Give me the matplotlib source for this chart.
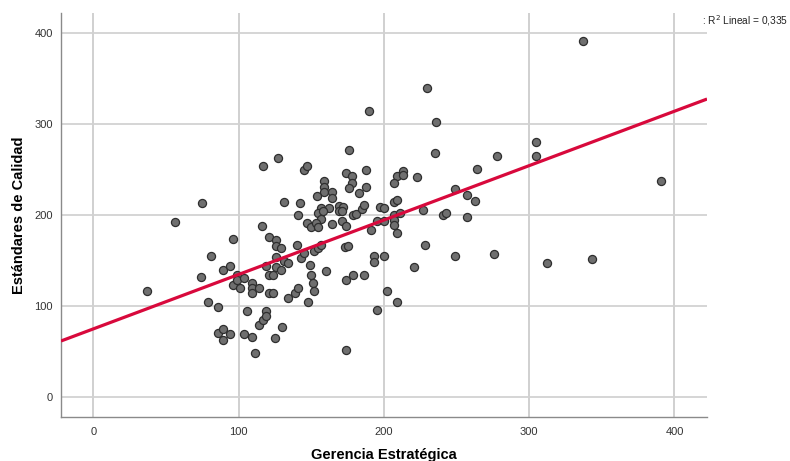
import numpy as np
import matplotlib.pyplot as plt

# --- data (Gerencia Estratégica vs Estándares de Calidad) ---
gerencia = [
    37, 56, 75, 74, 79, 81, 86, 86, 89, 89, 94, 89, 94, 96, 96, 99, 99, 101, 104, 104,
    106, 109, 109, 109, 109, 111, 114, 114, 117, 119, 119, 121, 121, 121, 124, 124, 119, 126, 126, 129,
    126, 126, 129, 125, 130, 131, 134, 134, 140, 139, 141, 143, 145, 148, 149, 150, 151, 152, 152, 155,
    157, 160, 173, 175, 174, 179, 186, 174, 191, 193, 193, 200, 202, 195, 209, 116, 117, 127, 145, 147,
    176, 174, 178, 188, 159, 159, 159, 164, 164, 178, 176, 188, 183, 131, 142, 154, 141, 157, 162, 155,
    158, 169, 172, 169, 171, 179, 181, 185, 186, 197, 200, 195, 200, 157, 147, 150, 153, 155, 164, 171,
    174, 190, 209, 207, 213, 213, 207, 209, 207, 207, 207, 211, 209, 228, 221, 249, 276, 312, 343, 337,
    230, 236, 235, 278, 305, 305, 264, 223, 391, 249, 257, 263, 227, 241, 243, 257,
]
estandares = [
    116, 192, 213, 131, 104, 155, 99, 70, 74, 62, 69, 139, 144, 173, 123, 134, 128, 119, 130, 69,
    94, 125, 119, 114, 66, 48, 119, 79, 84, 94, 89, 176, 134, 114, 114, 134, 144, 172, 166, 163,
    154, 143, 139, 65, 77, 149, 147, 109, 167, 114, 119, 152, 158, 104, 145, 134, 125, 116, 160, 163,
    167, 138, 164, 166, 128, 134, 134, 51, 183, 155, 148, 155, 116, 95, 104, 188, 254, 262, 249, 254,
    271, 246, 243, 249, 237, 230, 225, 225, 218, 235, 229, 230, 224, 214, 213, 220, 200, 207, 207, 202,
    204, 210, 209, 204, 204, 200, 201, 206, 211, 209, 207, 193, 193, 195, 191, 186, 191, 187, 190, 193,
    188, 314, 243, 235, 248, 244, 214, 216, 200, 194, 189, 202, 180, 167, 142, 155, 157, 147, 151, 391,
    339, 302, 268, 264, 280, 264, 250, 241, 237, 228, 222, 215, 205, 200, 202, 197,
]

# linear fit shown in the chart
fit_intercept = 74.5
fit_slope = 0.598
r2_text = ': R$^2$ Lineal = 0,335'

x_ticks = [0, 100, 200, 300, 400]
y_ticks = [0, 100, 200, 300, 400]

plt.rcParams['font.family'] = ['Liberation Sans', 'DejaVu Sans']

fig = plt.figure(figsize=(7.9, 4.61), dpi=100)
ax = fig.add_axes([0.0772, 0.0954, 0.8178, 0.8764])

ax.set_xlim(-22.2, 422.4)
ax.set_ylim(-22.3, 421.6)

# grid
for xv in x_ticks:
    ax.axvline(xv, color='#c4c4c4', linewidth=1.1, zorder=0)
for yv in y_ticks:
    ax.axhline(yv, color='#d2d2d2', linewidth=1.3, zorder=0)

ax.scatter(gerencia, estandares, s=34, c='#6f6f6f', edgecolors='#2e2e2e',
           linewidths=0.9, zorder=3)

xl = np.array(ax.get_xlim())
ax.plot(xl, fit_intercept + fit_slope * xl, color='#d8093c', linewidth=2.3, zorder=4,
        solid_capstyle='butt')

ax.set_xticks(x_ticks)
ax.set_yticks(y_ticks)
ax.tick_params(length=0, labelsize=8, labelcolor='#333333')
ax.tick_params(axis='x', pad=7)
ax.tick_params(axis='y', pad=6)

for side in ['top', 'right']:
    ax.spines[side].set_visible(False)
for side in ['left', 'bottom']:
    ax.spines[side].set_color('#8a8a8a')
    ax.spines[side].set_linewidth(1.0)

ax.set_xlabel('Gerencia Estratégica', fontsize=10.5, fontweight='bold', labelpad=8)
ax.set_ylabel('Estándares de Calidad', fontsize=10.5, fontweight='bold', labelpad=6)

fig.text(0.998, 0.955, r2_text, fontsize=7.3, color='#222222', ha='right', va='center')

fig.savefig('out.png', dpi=100)
